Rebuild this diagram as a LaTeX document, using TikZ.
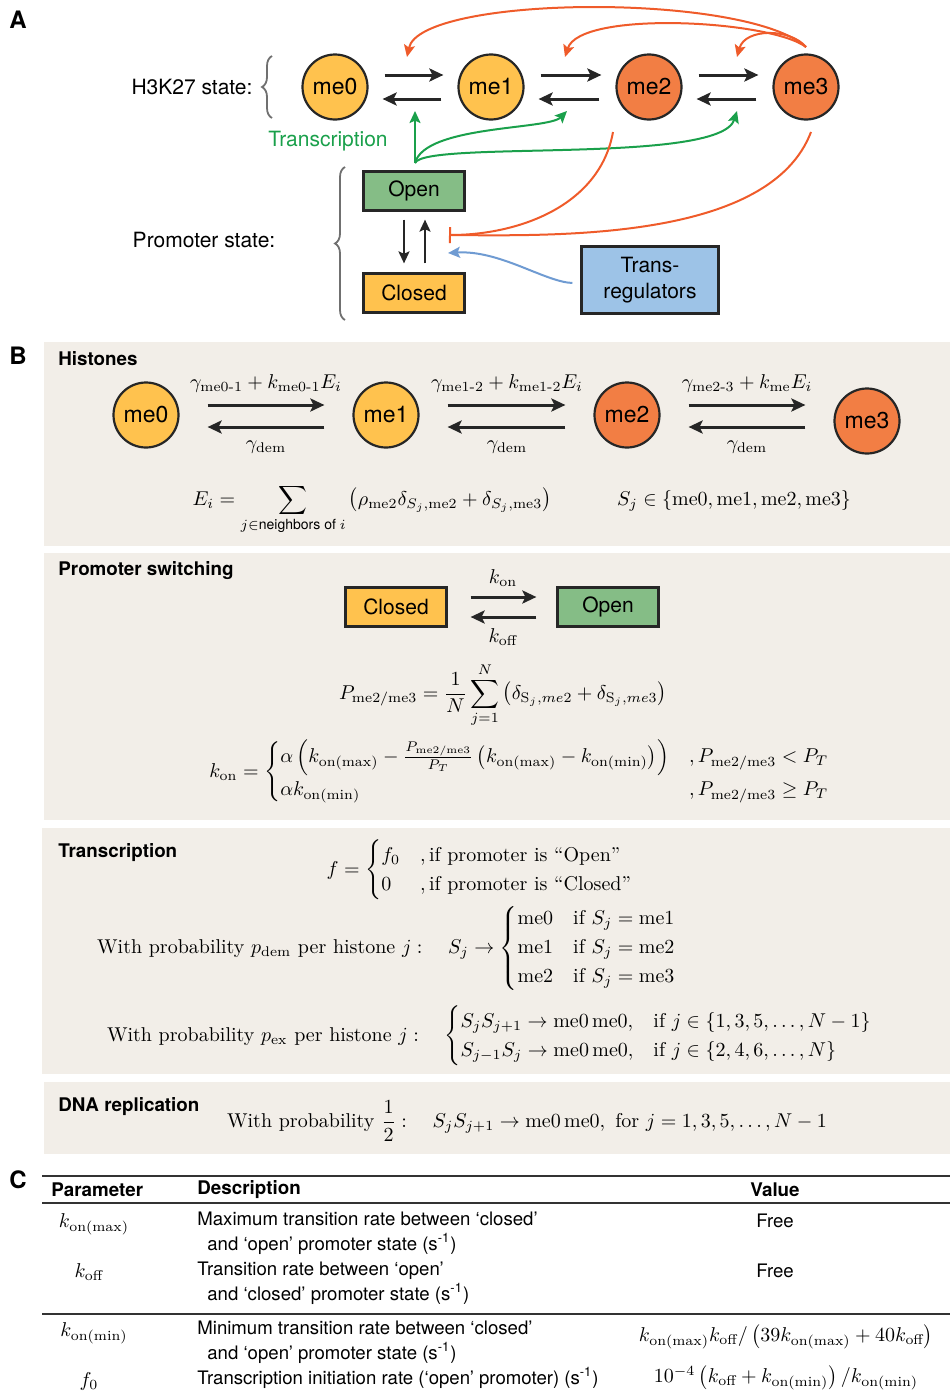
\documentclass[tikz,border=0pt]{standalone}
\usepackage{fontspec}
\setsansfont{TeX Gyre Heros}
\usepackage{amsmath,amssymb}
\usetikzlibrary{arrows.meta,decorations.pathreplacing,calc}

\definecolor{meyel}{HTML}{FFC24E}
\definecolor{meorg}{HTML}{F27E44}
\definecolor{methline}{HTML}{EF5B2A}
\definecolor{txgreen}{HTML}{1AA04B}
\definecolor{opengreen}{HTML}{85BD86}
\definecolor{tfblue}{HTML}{9DC3E7}
\definecolor{tfline}{HTML}{6F9BD2}
\definecolor{panelbg}{HTML}{F2EEE8}
\definecolor{bracegray}{HTML}{707070}

\begin{document}
\begin{tikzpicture}[
  x=0.5pt, y=-0.5pt,
  panel/.style={fill=panelbg},
  tag/.style={font=\sffamily\bfseries\fontsize{12}{14}\selectfont},
  ttl/.style={anchor=west,inner sep=0pt,font=\sffamily\bfseries\fontsize{9.4}{11}\selectfont},
  lbl/.style={font=\sffamily\fontsize{10.5}{12.6}\selectfont},
  hist/.style={circle,draw=black!85,line width=1.1pt,minimum size=32.5pt,inner sep=0pt,font=\sffamily\fontsize{11.5}{13}\selectfont},
  lo/.style={hist,fill=meyel},
  hi/.style={hist,fill=meorg},
  prom/.style={rectangle,draw=black!85,line width=1.1pt,minimum width=50.5pt,minimum height=19.5pt,font=\sffamily\fontsize{10.5}{12}\selectfont},
  rxn/.style={-{Stealth[length=7pt,width=6.5pt,inset=1.5pt]},line width=1.5pt,draw=black!85},
  rxnv/.style={-{Stealth[length=6pt,width=5.5pt,inset=1.2pt]},line width=1.1pt,draw=black!85},
  meth/.style={-{Stealth[length=6pt,width=5.5pt,inset=1.2pt]},line width=1pt,draw=methline},
  inh/.style={-{Bar[width=8pt,line width=1pt]},line width=1pt,draw=methline},
  tx/.style={-{Stealth[length=6pt,width=5.5pt,inset=1.2pt]},line width=1pt,draw=txgreen},
  tf/.style={-{Stealth[length=6pt,width=5.5pt,inset=1.2pt]},line width=1pt,draw=tfline},
  brc/.style={decorate,decoration={brace,amplitude=5pt},draw=bracegray,line width=0.9pt},
  desc/.style={anchor=west,align=left,inner sep=0pt,font=\sffamily\fontsize{9.3}{12.5}\selectfont},
  eq/.style={inner sep=0pt}
]
  \useasboundingbox (0,0) rectangle (950,1397);

  % ---------------- Panel A ----------------
  \node[tag] (tagA) at (18,20) {A};
  \node[lbl] (h3lab) at (192,87) {H3K27 state:};
  \draw[brc] (272,118) -- (272,56);
  \node[lo] (a0) at (335,87) {me0};
  \node[lo] (a1) at (491,87) {me1};
  \node[hi] (a2) at (649,87) {me2};
  \node[hi] (a3) at (806,87) {me3};

  % forward / backward methylation steps
  \draw[rxn,shorten <=8pt,shorten >=7pt] ([yshift=6pt]a0.east) -- ([yshift=6pt]a1.west);
  \draw[rxn,shorten <=8pt,shorten >=7pt] ([yshift=-6pt]a1.west) -- ([yshift=-6pt]a0.east);
  \draw[rxn,shorten <=8pt,shorten >=7pt] ([yshift=6pt]a1.east) -- ([yshift=6pt]a2.west);
  \draw[rxn,shorten <=8pt,shorten >=7pt] ([yshift=-6pt]a2.west) -- ([yshift=-6pt]a1.east);
  \draw[rxn,shorten <=8pt,shorten >=7pt] ([yshift=6pt]a2.east) -- ([yshift=6pt]a3.west);
  \draw[rxn,shorten <=8pt,shorten >=7pt] ([yshift=-6pt]a3.west) -- ([yshift=-6pt]a2.east);

  % read-write feedback from me3
  \coordinate (m3top) at (806,47);
  \coordinate (t01) at (407,57);
  \coordinate (t12) at (565,57);
  \coordinate (t23) at (737,57);
  \draw[meth] (m3top) .. controls (745,-8) and (420,-5) .. (t01);
  \draw[meth] (m3top) .. controls (770,20) and (580,10) .. (t12);
  \draw[meth] (m3top) .. controls (790,28) and (745,28) .. (t23);

  % promoter states
  \node[prom,fill=opengreen] (open) at (414,191) {Open};
  \node[prom,fill=meyel] (closed) at (414,293) {Closed};
  \draw[rxnv,shorten <=4pt,shorten >=4.5pt] ([xshift=-5pt]open.south) -- ([xshift=-5pt]closed.north);
  \draw[rxnv,shorten <=4.5pt,shorten >=4pt] ([xshift=5.5pt]closed.north) -- ([xshift=5.5pt]open.south);
  \node[lbl] (prlab) at (204,240) {Promoter state:};
  \draw[brc] (345,320) -- (345,167);

  % transcription-coupled demethylation
  \node[lbl,text=txgreen] (txlab) at (328,141) {Transcription};
  \coordinate (tsrc) at (415,163);
  \coordinate (g01) at (415,111);
  \coordinate (g12) at (567,111);
  \coordinate (g23) at (737,111);
  \draw[tx] (tsrc) -- (g01);
  \draw[tx] (tsrc) .. controls (425,125) and (548,130) .. (g12);
  \draw[tx] (tsrc) .. controls (425,140) and (720,165) .. (g23);

  % repression by me2/me3
  \coordinate (m2bot) at (613,132);
  \coordinate (m3bot) at (811,132);
  \coordinate (bar) at (449,235);
  \draw[inh] (m2bot) .. controls (600,205) and (520,235) .. (bar);
  \draw[inh] (m3bot) .. controls (770,240) and (560,236) .. (bar);

  % trans-regulators
  \node[prom,fill=tfblue,minimum width=68.5pt,minimum height=33.5pt,align=center,font=\sffamily\fontsize{10.5}{13}\selectfont] (trans) at (650,280) {Trans-\\regulators};
  \coordinate (tfin) at (448,253);
  \draw[tf] ([xshift=-4pt,yshift=-1.5pt]trans.west) .. controls (545,282) and (500,250) .. (tfin);

  % ---------------- Panel B ----------------
  \node[tag] (tagB) at (18,356) {B};
  \fill[panel] (44,342) rectangle (950,546);
  \fill[panel] (44,553) rectangle (950,820);
  \fill[panel] (42,828) rectangle (950,1074);
  \fill[panel] (44,1082) rectangle (950,1154);

  % Histones
  \node[ttl] (histt) at (58,359) {Histones};
  \node[lo] (b0) at (146,415) {me0};
  \node[lo] (b1) at (386,415) {me1};
  \node[hi] (b2) at (627,415) {me2};
  \node[hi] (b3) at (867,421) {me3};
  \draw[rxn,shorten <=14pt,shorten >=14pt] ([yshift=5pt]b0.east) -- ([yshift=5pt]b1.west);
  \draw[rxn,shorten <=14pt,shorten >=14pt] ([yshift=-6pt]b1.west) -- ([yshift=-6pt]b0.east);
  \draw[rxn,shorten <=14pt,shorten >=14pt] ([yshift=5pt]b1.east) -- ([yshift=5pt]b2.west);
  \draw[rxn,shorten <=14pt,shorten >=14pt] ([yshift=-6pt]b2.west) -- ([yshift=-6pt]b1.east);
  \draw[rxn,shorten <=14pt,shorten >=14pt] ([yshift=5pt]b2.east) -- ([yshift=8pt]b3.west);
  \draw[rxn,shorten <=14pt,shorten >=14pt] ([yshift=-3pt]b3.west) -- ([yshift=-6pt]b2.east);
  \node (r01) at (266,383) {$\gamma_{\text{me0-1}}+k_{\text{me0-1}}E_i$};
  \node (r12) at (507,383) {$\gamma_{\text{me1-2}}+k_{\text{me1-2}}E_i$};
  \node (r23) at (747,383) {$\gamma_{\text{me2-3}}+k_{\text{me}}E_i$};
  \node (d10) at (266,447) {$\gamma_{\text{dem}}$};
  \node (d21) at (507,447) {$\gamma_{\text{dem}}$};
  \node (d32) at (747,447) {$\gamma_{\text{dem}}$};
  \node[eq,anchor=base] (eiq) at (372,505) {$\displaystyle E_i=\sum_{j\in\textsf{neighbors of }i}\left(\rho_{\text{me2}}\delta_{S_j,\text{me2}}+\delta_{S_j,\text{me3}}\right)$};
  \node[eq,anchor=base] (sj) at (734,505) {$S_j\in\{\text{me0},\text{me1},\text{me2},\text{me3}\}$};

  % Promoter switching
  \node[ttl] (promt) at (58,571) {Promoter switching};
  \node[prom,fill=meyel] (pc) at (396,607) {Closed};
  \node[prom,fill=opengreen] (po) at (608,607) {Open};
  \draw[rxn,shorten <=11.5pt,shorten >=10pt] ([yshift=5pt]pc.east) -- ([yshift=5pt]po.west);
  \draw[rxn,shorten <=10pt,shorten >=11.5pt] ([yshift=-5pt]po.west) -- ([yshift=-5pt]pc.east);
  \node (kon) at (503,578) {$k_{\text{on}}$};
  \node (koff) at (503,637) {$k_{\text{off}}$};
  \node[eq] (peq) at (503,695) {$\displaystyle P_{\text{me2/me3}}=\frac{1}{N}\sum_{j=1}^{N}\left(\delta_{\mathrm{S}_j,me2}+\delta_{\mathrm{S}_j,me3}\right)$};
  \node[eq] (koneq) at (520,772) {$k_{\text{on}}=\begin{cases}\alpha\left(k_{\text{on(max)}}-\frac{P_{\text{me2/me3}}}{P_T}\left(k_{\text{on(max)}}-k_{\text{on(min)}}\right)\right) & ,P_{\text{me2/me3}}<P_T\\ \alpha k_{\text{on(min)}} & ,P_{\text{me2/me3}}\geq P_T\end{cases}$};

  % Transcription
  \node[ttl] (txt) at (58,853) {Transcription};
  \node[eq] (feq) at (480,870) {$f=\begin{cases}f_0 & ,\text{if promoter is “Open”}\\ 0 & ,\text{if promoter is “Closed”}\end{cases}$};
  \node[eq] (demeq) at (387,948) {With probability $p_{\text{dem}}$ per histone $j:\quad S_j\to\begin{cases}\text{me0} & \text{if }S_j=\text{me1}\\ \text{me1} & \text{if }S_j=\text{me2}\\ \text{me2} & \text{if }S_j=\text{me3}\end{cases}$};
  \node[eq] (exeq) at (490,1036) {With probability $p_{\text{ex}}$ per histone $j:\quad\begin{cases}S_jS_{j+1}\to\text{me0}\,\text{me0}, & \text{if }j\in\{1,3,5,\ldots,N-1\}\\ S_{j-1}S_j\to\text{me0}\,\text{me0}, & \text{if }j\in\{2,4,6,\ldots,N\}\end{cases}$};

  % DNA replication
  \node[ttl] (dnat) at (58,1107) {DNA replication};
  \node[eq] (dnaeq) at (527,1121) {With probability $\dfrac{1}{2}:\quad S_jS_{j+1}\to\text{me0}\,\text{me0},\ \text{for }j=1,3,5,\ldots,N-1$};

  % ---------------- Panel C ----------------
  \node[tag] (tagC) at (18,1180) {C};
  \draw[line width=1.1pt,black!80] (42,1176) -- (950,1176);
  \draw[line width=0.6pt,black!80] (42,1203) -- (950,1203);
  \draw[line width=1.1pt,black!80] (42,1314) -- (950,1314);
  \node[ttl] (hpar) at (51,1190) {Parameter};
  \node[ttl] (hdes) at (197,1190) {Description};
  \node[ttl,anchor=center] (hval) at (775,1190) {Value};

  \node (p1) at (94,1224) {$k_{\text{on(max)}}$};
  \node[desc] (d1) at (197,1233) {Maximum transition rate between ‘closed’\\\hspace{5pt}and ‘open’ promoter state (s\textsuperscript{-1})};
  \node[desc,anchor=center] (v1) at (775,1221) {Free};

  \node (p2) at (89,1272) {$k_{\text{off}}$};
  \node[desc] (d2) at (197,1283) {Transition rate between ‘open’\\\hspace{5pt}and ‘closed’ promoter state (s\textsuperscript{-1})};
  \node[desc,anchor=center] (v2) at (775,1271) {Free};

  \node (p3) at (94,1333) {$k_{\text{on(min)}}$};
  \node[desc] (d3) at (197,1342) {Minimum transition rate between ‘closed’\\\hspace{5pt}and ‘open’ promoter state (s\textsuperscript{-1})};
  \node (v3) at (786,1337) {$k_{\text{on(max)}}k_{\text{off}}/\left(39k_{\text{on(max)}}+40k_{\text{off}}\right)$};

  \node (p4) at (89,1381) {$f_0$};
  \node[desc] (d4) at (197,1378) {Transcription initiation rate (‘open’ promoter) (s\textsuperscript{-1})};
  \node (v4) at (786,1378) {$10^{-4}\left(k_{\text{off}}+k_{\text{on(min)}}\right)/k_{\text{on(min)}}$};
\end{tikzpicture}
\end{document}
